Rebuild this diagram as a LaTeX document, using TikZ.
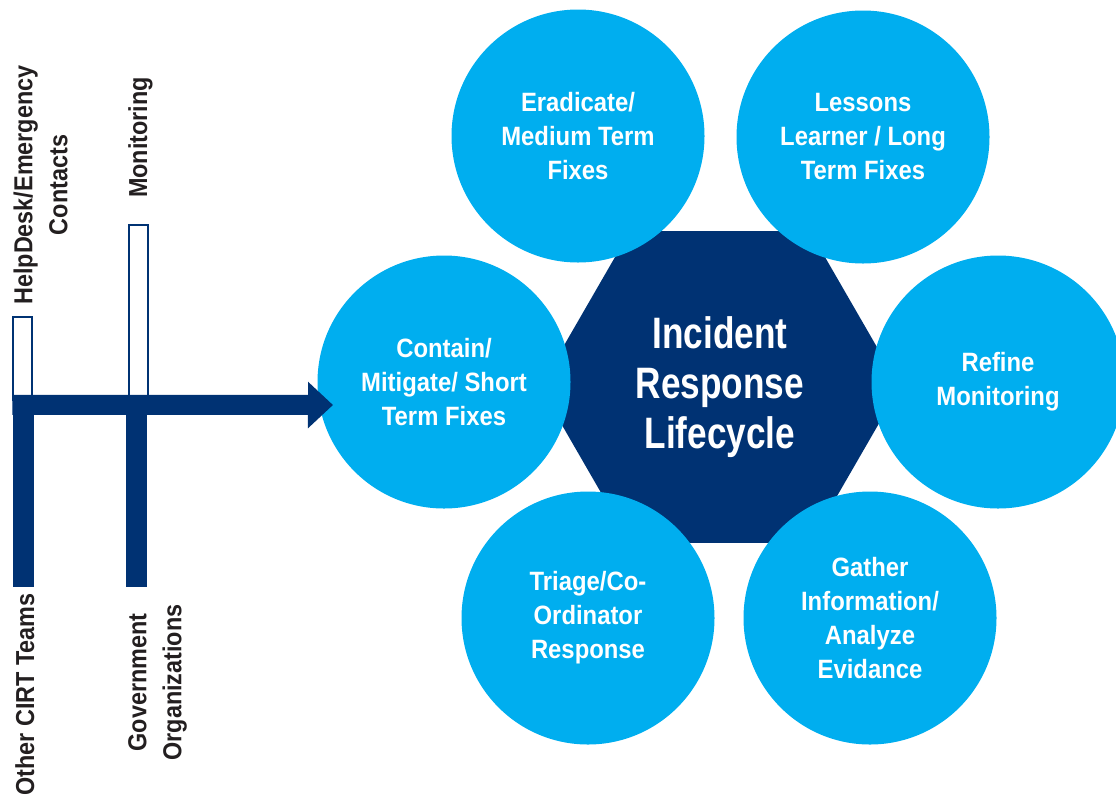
\documentclass[tikz,border=0pt]{standalone}
\usepackage{fontspec}
\setmainfont{Liberation Sans}
\newfontfamily\phasefamily{Liberation Sans}[FakeStretch=0.9]
\newfontfamily\corefamily{Liberation Sans}[FakeStretch=0.8]
\usepackage{xcolor}
\usepackage{tikz}
\usetikzlibrary{shapes.geometric, arrows.meta, positioning}
\definecolor{navy}{RGB}{0,50,115}
\definecolor{sky}{RGB}{0,174,239}
\definecolor{ink}{RGB}{35,31,32}
\tikzstyle{lifecycle} = [regular polygon, regular polygon sides=6, minimum size=360pt, inner sep=0pt, fill=navy, text=white, align=center, font=\corefamily\bfseries\fontsize{44}{50}\selectfont]
\tikzstyle{phase} = [circle, minimum size=253pt, inner sep=0pt, fill=sky, text=white, align=center, font=\phasefamily\bfseries\fontsize{26.5}{34}\selectfont]
\tikzstyle{openbar} = [rectangle, minimum width=19pt, inner sep=0pt, draw=navy, line width=2pt, fill=white]
\tikzstyle{solidbar} = [rectangle, minimum width=21pt, inner sep=0pt, fill=navy]
\tikzstyle{side} = [rotate=90, inner sep=0pt, text=ink, font=\phasefamily\bfseries\fontsize{26}{35}\selectfont]
\tikzstyle{feedline} = [line width=20pt, navy, -{Triangle[length=25pt,width=45pt]}]

\begin{document}
\begin{tikzpicture}[x=1pt, y=-1pt]
\useasboundingbox (0,0) rectangle (1116,801);
\node (core) [lifecycle] at (720,387) {Incident\\Response\\Lifecycle};

\node (contain) [phase] at (444,382) {Contain/\\Mitigate/ Short\\Term Fixes};
\node (eradicate) [phase] at (578,136) {Eradicate/\\Medium Term\\Fixes};
\node (lessons) [phase] at (863,137) {Lessons\\Learner / Long\\Term Fixes};
\node (refine) [phase] at (998,382) {Refine\\Monitoring};
\node (gather) [phase] at (870,618) {Gather\\Information/\\Analyze\\Evidance};
\node (triage) [phase] at (588,618) {Triage/Co-\\Ordinator\\Response};

\node (helpbar) [openbar, minimum height=83pt] at (22.7,358.5) {};
\node (monbar) [openbar, minimum height=174pt] at (138.3,312) {};
\node (cirtbar) [solidbar, minimum height=182pt] at (23,496) {};
\node (govbar) [solidbar, minimum height=182pt] at (136.5,496) {};
\coordinate (tip) at (333,405);
\draw [feedline] (cirtbar.north west) -- (tip);

\node (helplbl) [side, align=center] at (40.5,185) {HelpDesk/Emergency\\Contacts};
\node (monlbl) [side, anchor=base west] at (147,198) {Monitoring};
\node (cirtlbl) [side, anchor=base east] at (34,593) {Other CIRT Teams};
\node (govlbl) [side, align=center] at (157.5,682.5) {Government\\Organizations};
\end{tikzpicture}
\end{document}
